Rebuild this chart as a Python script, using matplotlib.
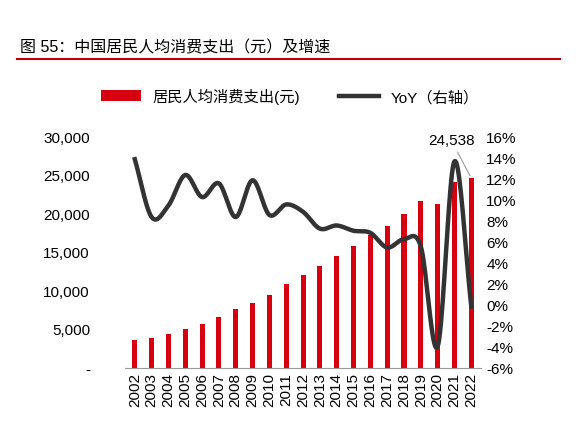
import numpy as np
import matplotlib
matplotlib.use("Agg")
import matplotlib.pyplot as plt
from matplotlib.ticker import FuncFormatter

plt.rcParams['font.family'] = ['Liberation Sans', 'Noto Sans CJK SC', 'DejaVu Sans']

years = [str(y) for y in range(2002, 2023)]
spend = [3548, 3889, 4395, 5035, 5634, 6592, 7548, 8377, 9378, 10820, 12054,
         13220, 14491, 15712, 17111, 18322, 19853, 21559, 21210, 24100, 24538]
yoy = [13.8, 8.3, 9.4, 12.3, 10.2, 11.5, 8.3, 11.8, 8.5, 9.5, 8.8,
       7.2, 7.5, 7.0, 6.8, 5.4, 6.2, 5.5, -4.0, 13.6, -0.2]


def smooth(x, y, n=20):
    # Catmull-Rom curve through the points
    x = np.asarray(x, float); y = np.asarray(y, float)
    px = np.concatenate([[2 * x[0] - x[1]], x, [2 * x[-1] - x[-2]]])
    py = np.concatenate([[2 * y[0] - y[1]], y, [2 * y[-1] - y[-2]]])
    t = np.linspace(0, 1, n, endpoint=False)
    xs, ys = [], []
    for i in range(1, len(px) - 2):
        for p, out in ((px, xs), (py, ys)):
            p0, p1, p2, p3 = p[i - 1], p[i], p[i + 1], p[i + 2]
            out.extend(0.5 * (2 * p1 + (-p0 + p2) * t + (2 * p0 - 5 * p1 + 4 * p2 - p3) * t ** 2
                              + (-p0 + 3 * p1 - 3 * p2 + p3) * t ** 3))
    xs.append(x[-1]); ys.append(y[-1])
    return xs, ys


fig = plt.figure(figsize=(5.8, 4.31), dpi=100)
fig.text(0.035, 0.89, '图 55：中国居民人均消费支出（元）及增速', fontsize=11.5, va='center')
fig.add_artist(plt.Line2D([0.03, 0.965], [0.86, 0.86], color='#c00000', lw=1.5))

ax = fig.add_axes([0.215, 0.145, 0.615, 0.537])
x = np.arange(len(years))
ax.bar(x, spend, width=0.3, color='#d7000f', label='居民人均消费支出(元)')
ax.set_ylim(0, 30000)
ax.set_xlim(-0.6, len(years) - 0.4)
ax.set_yticks(range(0, 30001, 5000))
ax.yaxis.set_major_formatter(FuncFormatter(lambda v, p: '-' if v == 0 else f'{int(v):,}'))
ax.set_xticks(x)
ax.set_xticklabels(years, rotation=90)
ax.tick_params(labelsize=11, length=0)
ax.tick_params(axis='y', pad=25)
for s in ['top', 'right', 'left']:
    ax.spines[s].set_visible(False)
ax.spines['bottom'].set_color('#999999')

ax2 = ax.twinx()
sx, sy = smooth(x, yoy)
ax2.plot(sx, sy, color='#333333', lw=3.2, label='YoY（右轴）')
ax2.set_ylim(-6, 16)
ax2.set_yticks(range(-6, 17, 2))
ax2.yaxis.set_major_formatter(FuncFormatter(lambda v, p: f'{int(v)}%'))
ax2.tick_params(labelsize=11, length=0)
for s in ['top', 'right', 'left', 'bottom']:
    ax2.spines[s].set_visible(False)

ax.annotate(f'{spend[-1]:,}', xy=(x[-1], spend[-1]), xytext=(x[-1] - 1.2, 29500),
            fontsize=11, ha='center', va='center',
            arrowprops=dict(arrowstyle='-', color='#999999', lw=0.8), zorder=5)

h1, l1 = ax.get_legend_handles_labels()
h2, l2 = ax2.get_legend_handles_labels()
fig.legend(h1 + h2, l1 + l2, loc='center', bbox_to_anchor=(0.5, 0.775), ncol=2,
           frameon=False, fontsize=11, handlelength=2.6, columnspacing=2.5)

fig.savefig('out.png', dpi=100)
